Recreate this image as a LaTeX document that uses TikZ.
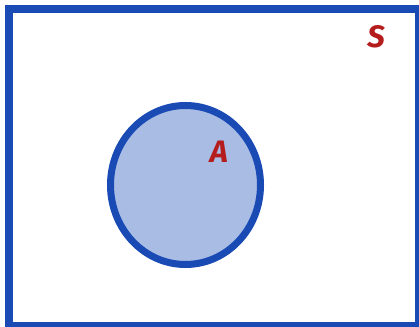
\documentclass[tikz,border=0pt]{standalone}
\usepackage{fontspec}
\newfontfamily\handfont{Fira Sans}
\begin{document}
\begin{tikzpicture}[x=1pt,y=-1pt]
\definecolor{frameblue}{HTML}{1A4AB4}
\definecolor{fillblue}{HTML}{A8BCE4}
\definecolor{labelred}{HTML}{B51C1C}
\tikzset{label text/.style={text=labelred,font=\handfont\fontsize{31}{31}\selectfont\bfseries\itshape,inner sep=0pt}}
\useasboundingbox (0,0) rectangle (419,326);
\begin{scope}
\clip (0,0) rectangle (419,326);
\draw[frameblue,line width=8] (9,9) rectangle (419,326);
\end{scope}
\draw[frameblue,line width=7,fill=fillblue] (185.5,185) ellipse [x radius=75, y radius=79.5];
\node[label text] (S) at (376,37) {S};
\node[label text] (A) at (219,152) {A};
\end{tikzpicture}
\end{document}
